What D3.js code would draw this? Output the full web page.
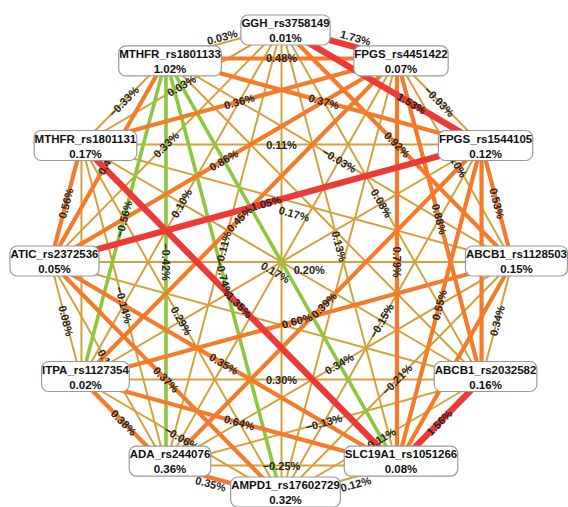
<!DOCTYPE html>
<html>
<head>
<meta charset="utf-8">
<script src="https://cdn.jsdelivr.net/npm/d3@7.9.0/dist/d3.min.js"></script>
<style>
  html, body { margin: 0; padding: 0; background: #fff; }
  svg { display: block; font-family: "Liberation Sans", Arial, sans-serif; }
</style>
</head>
<body>
<svg id="chart" width="568" height="507"></svg>
<script>
// nodes, clockwise from the top
const nodeNames = [
  'GGH_rs3758149', 'FPGS_rs4451422', 'FPGS_rs1544105', 'ABCB1_rs1128503',
  'ABCB1_rs2032582', 'SLC19A1_rs1051266', 'AMPD1_rs17602729', 'ADA_rs244076',
  'ITPA_rs1127354', 'ATIC_rs2372536', 'MTHFR_rs1801131', 'MTHFR_rs1801133'
];
const nodeValues = [0.01, 0.07, 0.12, 0.15, 0.16, 0.08, 0.32, 0.36, 0.02, 0.05, 0.17, 1.02];

// pairwise interaction (%)
const edgePairs = [
  [0,1],[0,2],[0,3],[0,4],[0,5],[0,6],[0,7],[0,8],[0,9],[0,10],[0,11],
  [1,2],[1,3],[1,4],[1,5],[1,6],[1,7],[1,8],[1,9],[1,10],[1,11],
  [2,3],[2,4],[2,5],[2,6],[2,7],[2,8],[2,9],[2,10],[2,11],
  [3,4],[3,5],[3,6],[3,7],[3,8],[3,9],[3,10],[3,11],
  [4,5],[4,6],[4,7],[4,8],[4,9],[4,10],[4,11],
  [5,6],[5,7],[5,8],[5,9],[5,10],[5,11],
  [6,7],[6,8],[6,9],[6,10],[6,11],
  [7,8],[7,9],[7,10],[7,11],
  [8,9],[8,10],[8,11],
  [9,10],[9,11],
  [10,11]
];
const edgeValues = [
  1.73, 1.53, 0.92, 0.08, 0.13, 0.05, 0.11, 0.10, 0.33, 0.03, 0.03,
  -0.03, -0.10, 0.88, 0.79, 0.12, 0.15, 0.45, 0.86, 0.36, 0.48,
  0.53, 0.62, 0.55, -0.15, 0.39, 0.09, 1.05, 0.11, 0.37,
  0.34, 0.47, -0.21, 0.34, 0.60, 0.20, 0.17, -0.03,
  1.56, 0.11, -0.13, 0.30, 0.06, 0.17, 0.07,
  -0.12, -0.25, 0.64, 0.35, 1.35, -0.45,
  0.35, -0.06, 0.37, 0.29, -0.74,
  0.38, 0.12, -0.14, -0.42,
  0.08, 0.04, -0.56,
  0.56, 0.40,
  -0.33
];
// labels that are not visible in the original (crowded centre / under boxes)
const hiddenLabels = ['0-6', '1-6', '1-7', '2-4', '2-8', '3-5', '4-9', '4-11', '5-11', '8-10'];
// label placement when not at the middle: [fraction along edge, shift across it]
const labelPlace = {
  '0-1': [0.62, -9], '0-2': [0.65, 0], '0-11': [0.5, -6],
  '3-9': [0.44, 8], '4-10': [0.5, 12], '3-10': [0.5, 11],
  '5-6': [0.4, 7], '6-7': [0.6, 6]
};

const width = 568, height = 507;
const cx = 281.5, cy = 262, rx = 231, ry = 235;   // edge anchors
const boxCy = 261, boxRy = 231;                     // label boxes

const svg = d3.select('#chart');

const angle = d3.scaleLinear().domain([0, nodeNames.length]).range([0, 2 * Math.PI]);
const nodes = nodeNames.map((name, i) => ({
  name,
  value: nodeValues[i],
  x: cx + rx * Math.sin(angle(i)),
  y: cy - ry * Math.cos(angle(i)),
  by: boxCy - boxRy * Math.cos(angle(i))
}));

const color = d3.scaleThreshold()
  .domain([-0.4, 0.345, 1.0])
  .range(['#8dc63f', '#d3a23c', '#f47b2a', '#ee3a36']);
const strokeW = d3.scaleThreshold()
  .domain([-0.4, 0.345, 1.0])
  .range([3.6, 2, 4.2, 6.2]);

const edges = edgePairs.map(([a, b], i) => ({
  key: a + '-' + b,
  s: nodes[a],
  t: nodes[b],
  value: edgeValues[i]
})).sort((p, q) => strokeW(p.value) - strokeW(q.value));

svg.append('g')
  .selectAll('line')
  .data(edges)
  .join('line')
  .attr('x1', d => d.s.x)
  .attr('y1', d => d.s.y)
  .attr('x2', d => d.t.x)
  .attr('y2', d => d.t.y)
  .attr('stroke', d => color(d.value))
  .attr('stroke-width', d => strokeW(d.value))
  .attr('stroke-linecap', 'round');

const fmt = d3.format('.2f');
svg.append('g')
  .selectAll('text')
  .data(edges.filter(d => !hiddenLabels.includes(d.key)))
  .join('text')
  .attr('transform', d => {
    const [t, off] = labelPlace[d.key] ?? [0.5, 0];
    const x = d.s.x + (d.t.x - d.s.x) * t;
    const y = d.s.y + (d.t.y - d.s.y) * t;
    let a = Math.atan2(d.t.y - d.s.y, d.t.x - d.s.x) * 180 / Math.PI;
    if (a > 90) a -= 180;
    if (a < -90) a += 180;
    return `translate(${x},${y}) rotate(${a}) translate(0,${off})`;
  })
  .attr('text-anchor', 'middle')
  .attr('dominant-baseline', 'central')
  .attr('font-size', 11)
  .attr('font-weight', 'bold')
  .attr('fill', '#222')
  .text(d => fmt(d.value) + '%');

// node boxes
const nodeG = svg.append('g')
  .selectAll('g')
  .data(nodes)
  .join('g')
  .attr('transform', d => `translate(${d.x + 4},${d.by})`);

const names = nodeG.append('text')
  .attr('y', -7)
  .attr('text-anchor', 'middle')
  .attr('dominant-baseline', 'central')
  .attr('font-size', 11.5)
  .attr('font-weight', 'bold')
  .attr('fill', '#111')
  .text(d => d.name);

names.each(function(d) { d.w = this.getComputedTextLength() + 1; });

nodeG.insert('rect', 'text')
  .attr('x', d => -d.w / 2)
  .attr('y', -15)
  .attr('width', d => d.w)
  .attr('height', 30)
  .attr('rx', 7)
  .attr('fill', '#fff')
  .attr('stroke', '#9a9a9a')
  .attr('stroke-width', 1.2);

nodeG.append('text')
  .attr('y', 8)
  .attr('text-anchor', 'middle')
  .attr('dominant-baseline', 'central')
  .attr('font-size', 11.5)
  .attr('font-weight', 'bold')
  .attr('fill', '#111')
  .text(d => fmt(d.value) + '%');
</script>
</body>
</html>
